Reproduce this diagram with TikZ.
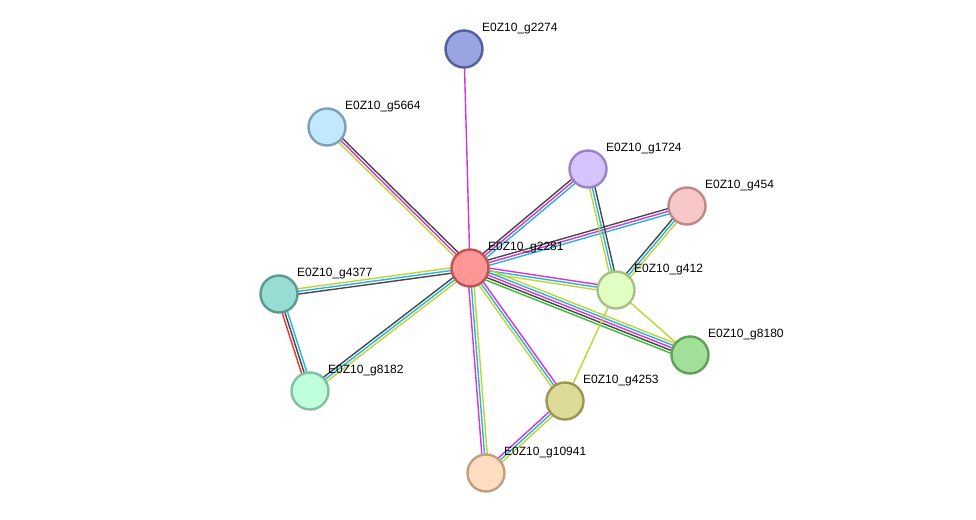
\documentclass[tikz,border=0pt]{standalone}
\usepackage{fontspec}
\setmainfont{Liberation Sans}
\usetikzlibrary{calc}
\pgfdeclarelayer{edges}
\pgfdeclarelayer{bgfill}
\pgfsetlayers{bgfill,edges,main}
\definecolor{cMag}{HTML}{D535D5}
\definecolor{cCya}{HTML}{27B4E0}
\definecolor{cYel}{HTML}{BFD432}
\definecolor{cBlk}{HTML}{484848}
\definecolor{cGrn}{HTML}{35C035}
\definecolor{cRed}{HTML}{EE3333}
\tikzset{
  prot/.style={circle, minimum size=37pt, inner sep=0pt, line width=2.4pt},
  lbl/.style={anchor=west, inner sep=0pt, font=\fontsize{12}{14}\selectfont, text=black},
  edgeline/.style={line width=1.4pt},
}
\newcommand{\stredge}[4]{%
  \foreach \c [count=\i] in {#4} {%
    \pgfmathsetmacro\off{(\i-(#3+1)/2)*2.7}%
    \draw[edgeline, draw=\c] ($(#1)!\off pt!90:(#2)$) -- ($(#2)!\off pt!-90:(#1)$);
  }}
\begin{document}
\begin{tikzpicture}[x=1pt, y=-1pt]
\begin{pgfonlayer}{bgfill}
\fill[white] (0,0) rectangle (976,519);
\end{pgfonlayer}
\useasboundingbox (0,0) rectangle (976,519);
% nodes
\node[prot, fill={rgb,255:red,153;green,164;blue,224}, draw={rgb,255:red,84;green,94;blue,160}] (n2274) at (464,49) {};
\node[prot, fill={rgb,255:red,193;green,232;blue,255}, draw={rgb,255:red,122;green,160;blue,186}] (n5664) at (327,127) {};
\node[prot, fill={rgb,255:red,213;green,196;blue,252}, draw={rgb,255:red,154;green,132;blue,200}] (n1724) at (588,169) {};
\node[prot, fill={rgb,255:red,248;green,200;blue,200}, draw={rgb,255:red,190;green,136;blue,136}] (n454) at (687,206) {};
\node[prot, fill={rgb,255:red,255;green,150;blue,150}, draw={rgb,255:red,192;green,82;blue,82}] (n2281) at (470,268) {};
\node[prot, fill={rgb,255:red,152;green,221;blue,212}, draw={rgb,255:red,90;green,154;blue,144}] (n4377) at (279,294) {};
\node[prot, fill={rgb,255:red,224;green,255;blue,192}, draw={rgb,255:red,168;green,192;blue,136}] (n412) at (616,290) {};
\node[prot, fill={rgb,255:red,160;green,224;blue,152}, draw={rgb,255:red,96;green,160;blue,88}] (n8180) at (690,355) {};
\node[prot, fill={rgb,255:red,192;green,255;blue,220}, draw={rgb,255:red,128;green,192;blue,160}] (n8182) at (310,391) {};
\node[prot, fill={rgb,255:red,222;green,218;blue,152}, draw={rgb,255:red,154;green,152;blue,80}] (n4253) at (565,401) {};
\node[prot, fill={rgb,255:red,255;green,221;blue,192}, draw={rgb,255:red,192;green,160;blue,128}] (n10941) at (486,473) {};
% labels
\node[lbl] (l2274) at ($(n2274)+(18,-20)$) {E0Z10\_g2274};
\node[lbl] (l5664) at ($(n5664)+(18,-20)$) {E0Z10\_g5664};
\node[lbl] (l1724) at ($(n1724)+(18,-20)$) {E0Z10\_g1724};
\node[lbl] (l454) at ($(n454)+(18,-20)$) {E0Z10\_g454};
\node[lbl] (l2281) at ($(n2281)+(18,-20)$) {E0Z10\_g2281};
\node[lbl] (l4377) at ($(n4377)+(18,-20)$) {E0Z10\_g4377};
\node[lbl] (l412) at ($(n412)+(18,-20)$) {E0Z10\_g412};
\node[lbl] (l8180) at ($(n8180)+(18,-20)$) {E0Z10\_g8180};
\node[lbl] (l8182) at ($(n8182)+(18,-20)$) {E0Z10\_g8182};
\node[lbl] (l4253) at ($(n4253)+(18,-20)$) {E0Z10\_g4253};
\node[lbl] (l10941) at ($(n10941)+(18,-20)$) {E0Z10\_g10941};
% edges
\begin{pgfonlayer}{edges}
\stredge{n2281}{n2274}{1}{cMag}
\stredge{n5664}{n2281}{3}{cYel,cMag,cBlk}
\stredge{n2281}{n1724}{3}{cCya,cMag,cBlk}
\stredge{n2281}{n454}{3}{cCya,cMag,cBlk}
\stredge{n1724}{n412}{3}{cYel,cCya,cBlk}
\stredge{n454}{n412}{3}{cBlk,cCya,cYel}
\stredge{n2281}{n4377}{3}{cYel,cCya,cBlk}
\stredge{n4377}{n8182}{3}{cRed,cBlk,cCya}
\stredge{n2281}{n8182}{3}{cBlk,cCya,cYel}
\stredge{n2281}{n412}{3}{cYel,cCya,cMag}
\stredge{n2281}{n8180}{5}{cGrn,cBlk,cMag,cCya,cYel}
\stredge{n2281}{n10941}{3}{cMag,cCya,cYel}
\stredge{n2281}{n4253}{3}{cYel,cCya,cMag}
\stredge{n4253}{n10941}{3}{cMag,cCya,cYel}
\stredge{n412}{n8180}{1}{cYel}
\stredge{n412}{n4253}{1}{cYel}
\end{pgfonlayer}
\end{tikzpicture}
\end{document}
